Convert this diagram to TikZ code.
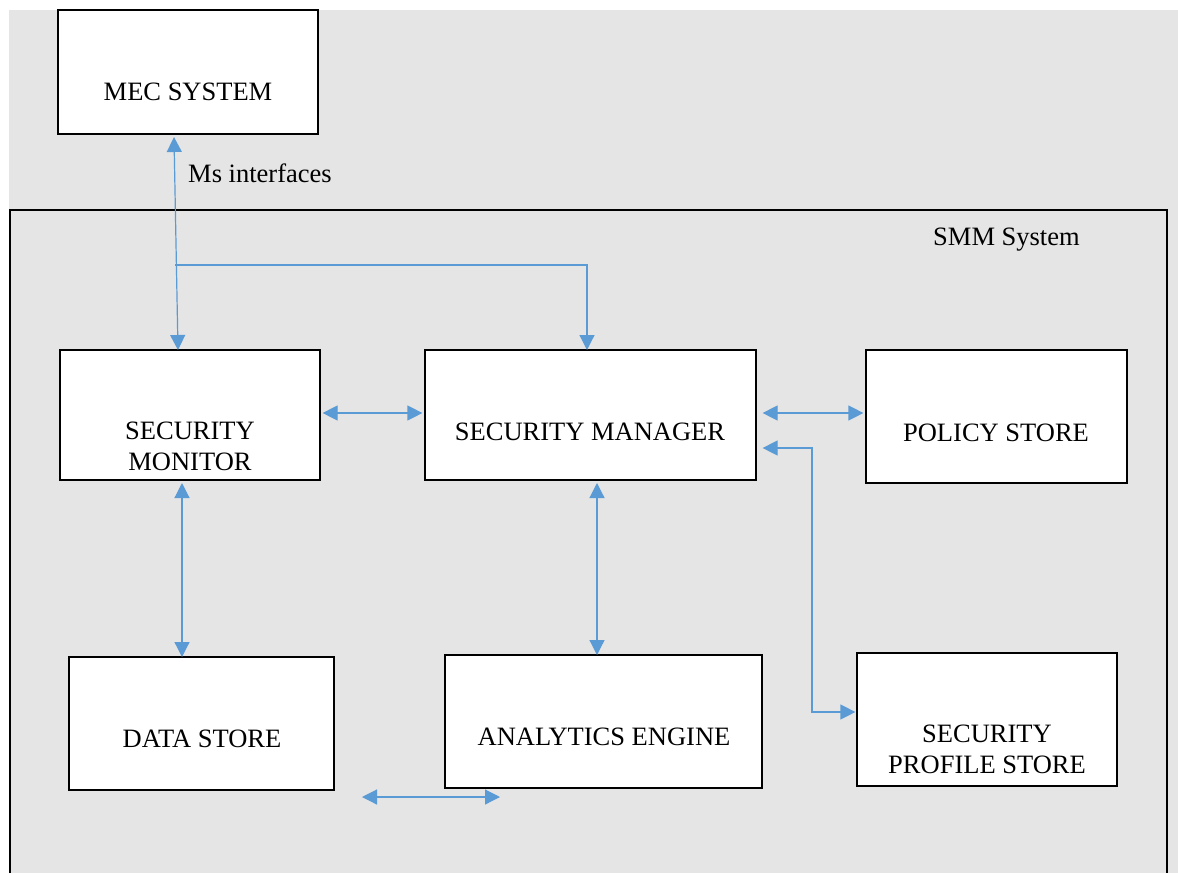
\documentclass[tikz,border=0pt]{standalone}
\usepackage{fontspec}
\setmainfont{Liberation Serif}
\usetikzlibrary{arrows.meta}
\definecolor{bggray}{HTML}{E5E5E5}
\definecolor{conblue}{HTML}{5B9BD5}
\tikzset{
  box/.style={draw=black, line width=1.2pt, fill=white, inner sep=0pt},
  txt/.style={font=\fontsize{26.5}{31}\selectfont, inner sep=0pt, anchor=base},
  con/.style={draw=conblue, line width=1.2pt},
  dbl/.style={con, {Triangle[length=15pt,width=15pt]}-{Triangle[length=15pt,width=15pt]}},
  tip/.style={con, -{Triangle[length=15pt,width=15pt]}},
}
\begin{document}
\begin{tikzpicture}[x=1pt,y=-1pt]
\useasboundingbox (0,0) rectangle (1178,873);
\fill[bggray] (9,10) rectangle (1178,873);
% SMM system frame
\draw[black, line width=2pt] (10,873) |- (1167,210) -- (1167,873);
\node[txt, anchor=base west] (smmlbl) at (933,245) {SMM System};

% boxes
\node[box, minimum width=260pt, minimum height=124pt] (mec) at (188,72) {};
\node[txt] at (188,100) {MEC SYSTEM};
\node[box, minimum width=260pt, minimum height=130pt] (mon) at (190,415) {};
\node[txt] at (190,439) {SECURITY};
\node[txt] at (190,470) {MONITOR};
\node[box, minimum width=331pt, minimum height=130pt] (mgr) at (590.5,415) {};
\node[txt] at (590,440) {SECURITY MANAGER};
\node[box, minimum width=261pt, minimum height=133pt] (pol) at (996.5,416.5) {};
\node[txt] at (996,441) {POLICY STORE};
\node[box, minimum width=265pt, minimum height=133pt] (ds) at (201.5,723.5) {};
\node[txt] at (202,747) {DATA STORE};
\node[box, minimum width=317pt, minimum height=133pt] (ae) at (603.5,721.5) {};
\node[txt] at (604,745) {ANALYTICS ENGINE};
\node[box, minimum width=260pt, minimum height=133pt] (sps) at (987,719.5) {};
\node[txt] at (987,742) {SECURITY};
\node[txt] at (987,773) {PROFILE STORE};

% connectors
\coordinate (mecb) at (174,137);
\coordinate (mont) at (178,350);
\draw[dbl] (mecb) -- (mont);
\coordinate (branch) at (175,265);
\coordinate (mgrt) at (587,350);
\draw[tip] (branch) -| (mgrt);
\node[txt, anchor=base west] (ms) at (188,182) {Ms interfaces};

\draw[dbl] ([xshift=2pt]mon.east |- 0,413) -- ([xshift=-2pt]mgr.west |- 0,413);
\draw[dbl] ([xshift=6pt]mgr.east |- 0,413) -- ([xshift=-2pt]pol.west |- 0,413);
\draw[dbl] (182,483) -- (182,657);
\draw[dbl] (597,483) -- (597,655);
\draw[dbl] ([xshift=6pt]mgr.east |- 0,448) -| (812,712) -- ([xshift=-1pt]sps.west |- 0,712);
\coordinate (f1) at (362,797);
\coordinate (f2) at (500,797);
\draw[dbl] (f1) -- (f2);
\end{tikzpicture}
\end{document}
